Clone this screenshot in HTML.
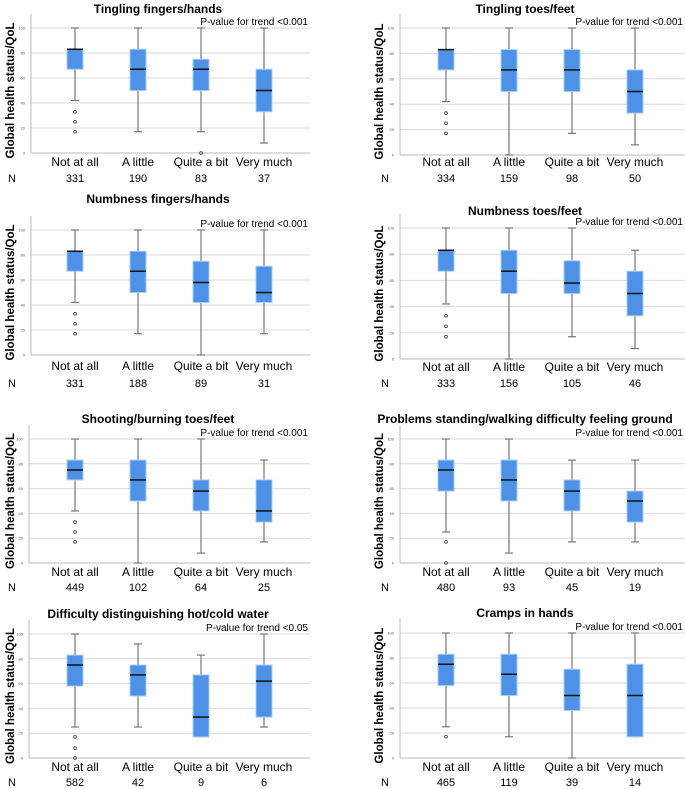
<!DOCTYPE html>
<html><head><meta charset="utf-8"><style>
body{margin:0;background:#fff;}
svg{display:block;font-family:"Liberation Sans",sans-serif;}
</style></head><body>
<svg id="c" width="685" height="789"></svg>
<script>
const titles=["Tingling fingers/hands","Tingling toes/feet","Numbness fingers/hands","Numbness toes/feet","Shooting/burning toes/feet","Problems standing/walking difficulty feeling ground","Difficulty distinguishing hot/cold water","Cramps in hands"];
const pvals=["P-value for trend <0.001","P-value for trend <0.001","P-value for trend <0.001","P-value for trend <0.001","P-value for trend <0.001","P-value for trend <0.001","P-value for trend <0.05","P-value for trend <0.001"];
const categories=["Not at all","A little","Quite a bit","Very much"];
const counts=[[331,190,83,37],[334,159,98,50],[331,188,89,31],[333,156,105,46],[449,102,64,25],[480,93,45,19],[582,42,9,6],[465,119,39,14]];
// [whiskerLow, q1, median, q3, whiskerHigh]
const stats=[
[[42,67,83,83,100],[17,50,67,83,100],[17,50,67,75,100],[8,33,50,67,100]],
[[42,67,83,83,100],[0,50,67,83,100],[17,50,67,83,100],[8,33,50,67,100]],
[[42,67,83,83,100],[17,50,67,83,100],[0,42,58,75,100],[17,42,50,71,100]],
[[42,67,83,83,100],[0,50,67,83,100],[17,50,58,75,100],[8,33,50,67,83]],
[[42,67,75,83,100],[0,50,67,83,100],[8,42,58,67,100],[17,33,42,67,83]],
[[25,58,75,83,100],[8,50,67,83,100],[17,42,58,67,83],[17,33,50,58,83]],
[[25,58,75,83,100],[25,50,67,75,92],[17,17,33,67,83],[25,33,62,75,100]],
[[25,58,75,83,100],[17,50,67,83,100],[0,38,50,71,100],[17,17,50,75,100]]];
const outliers=[[[33,25,17],[],[0],[]],[[33,25,17],[],[],[]],[[33,25,17],[],[],[]],[[33,25,17],[],[],[]],[[33,25,17],[],[],[]],[[17,0],[],[],[]],[[17,8,0],[],[],[]],[[17],[],[],[]]];
const ticks=[0,20,40,60,80,100];

const layout=[
 {ax:31,gr:310,y100:28,y0:153,tt:8,lab:162,n:178},
 {ax:400,gr:685,y100:28,y0:155,tt:8,lab:162,n:178},
 {ax:31,gr:310,y100:230,y0:355,tt:198,lab:366,n:383},
 {ax:400,gr:685,y100:228,y0:359,tt:210,lab:367,n:383},
 {ax:29,gr:310,y100:439,y0:563,tt:418,lab:572,n:587},
 {ax:400,gr:685,y100:439,y0:563,tt:418,lab:572,n:587},
 {ax:29,gr:310,y100:634,y0:758,tt:613,lab:767,n:782},
 {ax:400,gr:685,y100:633,y0:758,tt:612,lab:767,n:782}];
const NS="http://www.w3.org/2000/svg";
const svg=document.getElementById('c');
function mk(t,a,p,txt){const e=document.createElementNS(NS,t);for(const k in a)e.setAttribute(k,a[k]);if(txt!==undefined)e.textContent=txt;p.appendChild(e);return e;}
for(let p=0;p<8;p++){
 const L=layout[p];const right=p%2==1;
 const g=mk('g',{},svg);
 
 
 const y=v=>L.y0-(L.y0-L.y100)*v/100;
 const cx=right?[446,509,572,635]:[75,138,201,264];
 for(const t of ticks){
  if(t>0){const gl=mk('line',{x1:L.ax,x2:L.gr,y1:y(t),y2:y(t),stroke:'#d9d9d9','stroke-width':1},g);
  }
  const tl=mk('text',{x:L.ax-6,y:y(t)+1.5,'font-size':4,'text-anchor':'end',fill:'#555'},g,t);
  
 }
 const axl=mk('line',{x1:L.ax,x2:L.ax,y1:L.y100-14,y2:L.y0,stroke:'#bbb'},g);
 
 const axb=mk('line',{x1:L.ax,x2:L.gr,y1:L.y0,y2:L.y0,stroke:'#bbb'},g);
 
 const tx=right?525:158;
 const ti=mk('text',{x:tx,y:L.tt+5,'font-size':12,'font-weight':'bold','text-anchor':'middle'},g,titles[p]);
 
 const pv=mk('text',{x:right?683:308,y:L.y100-3,'font-size':10,'text-anchor':'end'},g,pvals[p]);
 
 const yx=right?383:14,ym=(L.y100+L.y0)/2;
 const yt=mk('text',{x:yx,y:ym,'font-size':11.5,'font-weight':'bold','text-anchor':'middle',transform:`rotate(-90 ${yx} ${ym})`},g,'Global health status/QoL');
 
 const nl=mk('text',{x:right?385:12,y:L.n+4,'font-size':11,'text-anchor':'middle'},g,'N');
 
 for(let i=0;i<4;i++){
  const s=stats[p][i],x=cx[i],w=16;
  const wh=mk('line',{x1:x,x2:x,y1:y(s[0]),y2:y(s[4]),stroke:'#777','stroke-width':1.2},g);
  
  for(const v of [s[0],s[4]]){const c=mk('line',{x1:x-4,x2:x+4,y1:y(v),y2:y(v),stroke:'#777','stroke-width':1.2},g);
   }
  const b=mk('rect',{x:x-w/2,y:y(s[3]),width:w,height:Math.max(1,y(s[1])-y(s[3])),fill:'#4d92e6',stroke:'#a8ccf5','stroke-width':1},g);
  
  const m=mk('line',{x1:x-w/2,x2:x+w/2,y1:y(s[2]),y2:y(s[2]),stroke:'#111','stroke-width':1.5},g);
  
  for(const o of outliers[p][i]){const c=mk('circle',{cx:x,cy:y(o),r:1.4,fill:'none',stroke:'#333','stroke-width':0.8},g);
   }
  const cl=mk('text',{x:x,y:L.lab+4,'font-size':12,'text-anchor':'middle'},g,categories[i]);
  
  const nv=mk('text',{x:x,y:L.n+4,'font-size':11,'text-anchor':'middle'},g,counts[p][i]);
  
 }
}
</script>
</body></html>
